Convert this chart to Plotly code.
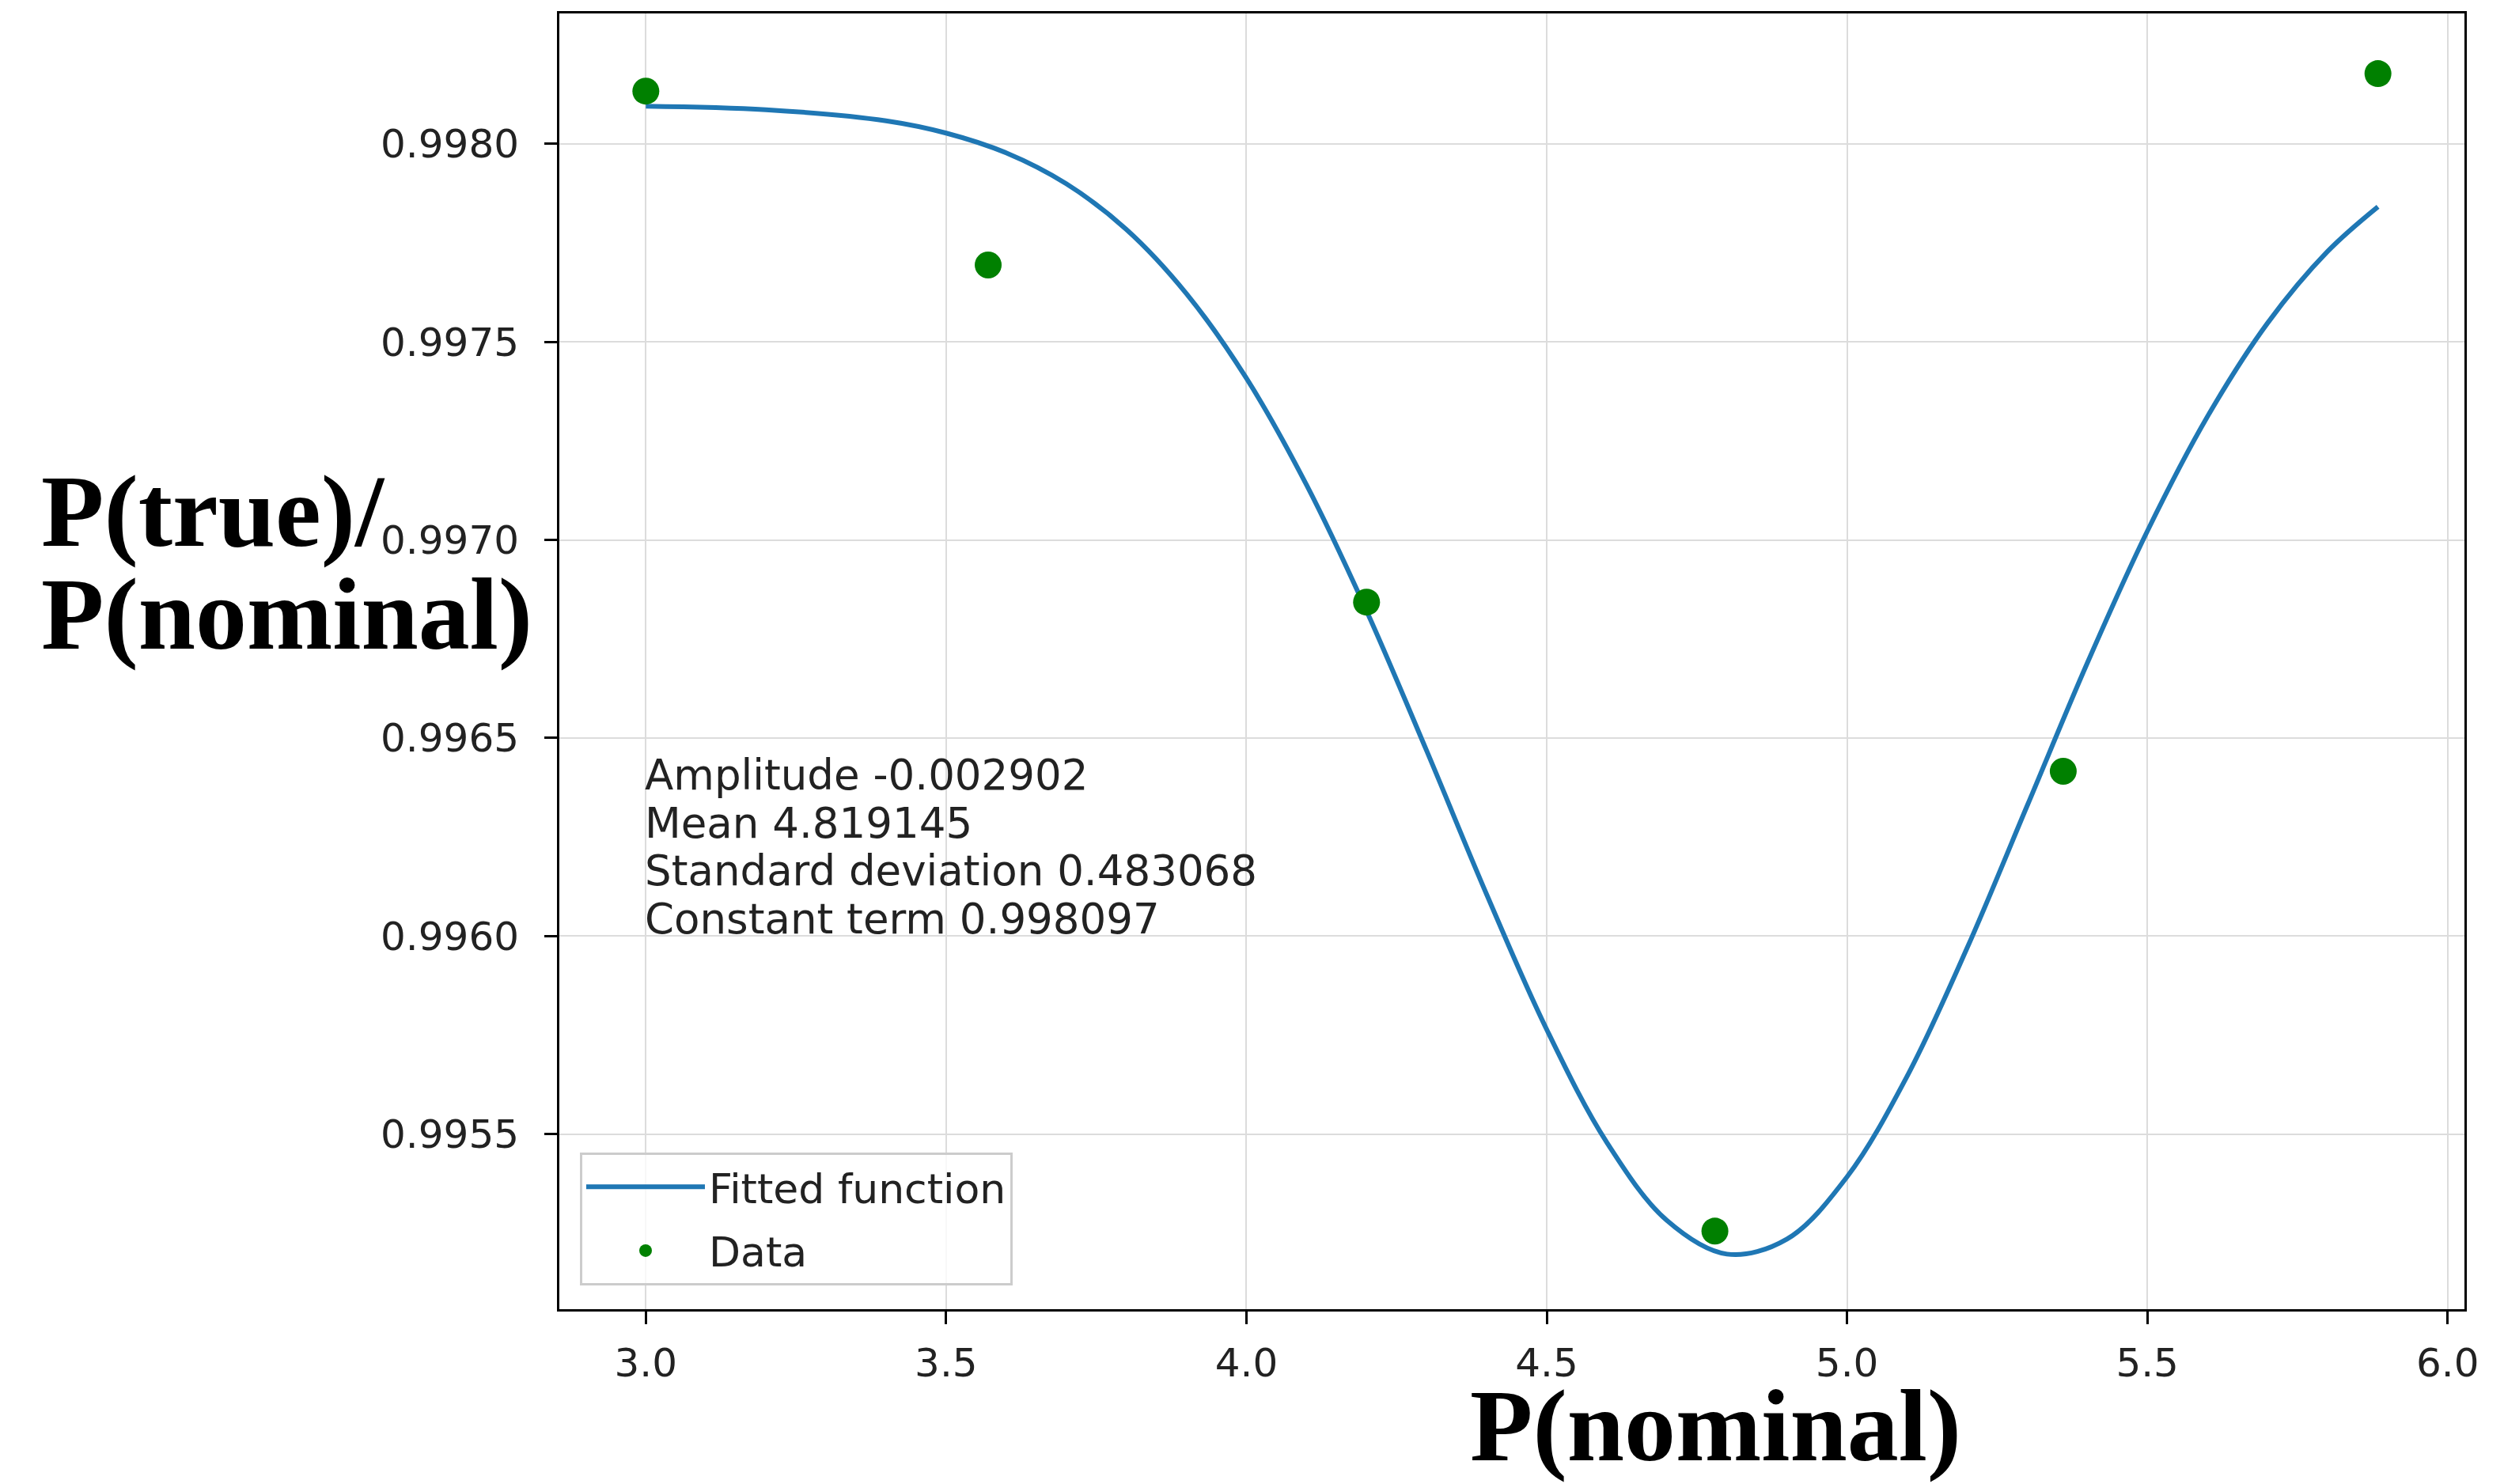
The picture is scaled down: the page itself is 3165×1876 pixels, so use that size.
import plotly.graph_objects as go

# Data points
data_x = [3.0, 3.57, 4.20, 4.78, 5.36, 5.884]
data_y = [0.998133, 0.997694, 0.996843, 0.995255, 0.996416, 0.998177]

# Fitted curve samples
fit_x = [3.0, 3.2, 3.4, 3.5, 3.6, 3.7, 3.8, 3.9, 4.0, 4.1, 4.2, 4.3, 4.4, 4.5,
         4.6, 4.7, 4.8, 4.9, 5.0, 5.1, 5.2, 5.3, 5.4, 5.5, 5.6, 5.7, 5.8, 5.884]
fit_y = [0.998095, 0.998086, 0.998058, 0.998027, 0.997977, 0.997899, 0.997784,
         0.997622, 0.997408, 0.997139, 0.996821, 0.996468, 0.996105, 0.995764,
         0.995479, 0.995282, 0.995197, 0.995235, 0.995392, 0.995646, 0.995970,
         0.996329, 0.996689, 0.997022, 0.997311, 0.997547, 0.997728, 0.997841]

x_ticks = [3.0, 3.5, 4.0, 4.5, 5.0, 5.5, 6.0]
y_ticks = [0.9955, 0.9960, 0.9965, 0.9970, 0.9975, 0.9980]

fit_text = ["Amplitude -0.002902", "Mean 4.819145",
            "Standard deviation 0.483068", "Constant term 0.998097"]

W, H = 3165, 1876
L, R, T, B = 707, 50, 17, 221
PW, PH = W - L - R, H - T - B


def px_x(p):
    return (p - L) / PW


def px_y(p):
    return (H - B - p) / PH


fig = go.Figure()
fig.add_trace(go.Scatter(x=fit_x, y=fit_y, mode="lines", name="Fitted function",
                         legendgroup="fit",
                         line=dict(color="#1f77b4", width=6, shape="spline")))
fig.add_trace(go.Scatter(x=data_x, y=data_y, mode="markers", name="Data",
                         legendgroup="data",
                         marker=dict(color="green", size=34)))

axis_common = dict(showline=True, linecolor="black", linewidth=3, mirror=True,
                   ticks="outside", ticklen=16, tickwidth=3, tickcolor="black",
                   showgrid=True, gridcolor="#dcdcdc", gridwidth=2,
                   zeroline=False, tickfont=dict(family="DejaVu Sans", size=50, color="#222"))

fig.update_xaxes(range=[2.856, 6.028], tickvals=x_ticks,
                 ticktext=[f"{v:.1f}" for v in x_ticks], ticklabelstandoff=6, **axis_common)
fig.update_yaxes(range=[0.995058, 0.998329], tickvals=y_ticks,
                 ticktext=[f"{v:.4f}" for v in y_ticks], ticklabelstandoff=22, **axis_common)

# fit parameter text, one line per annotation (line pitch ~60px)
line_centers = [979, 1040, 1100, 1161]
for txt, pc in zip(fit_text, line_centers):
    fig.add_annotation(x=fit_x[0], y=px_y(pc), xref="x", yref="paper",
                       text=txt, showarrow=False, xanchor="left", yanchor="middle",
                       align="left", xshift=-3,
                       font=dict(family="DejaVu Sans", size=53, color="#222"))

# x axis title
fig.add_annotation(x=px_x(2168), y=px_y(1802), xref="paper", yref="paper",
                   text="<b>P(nominal)</b>", showarrow=False,
                   xanchor="center", yanchor="middle",
                   font=dict(family="Liberation Serif", size=130, color="black"))

# y axis title (two lines)
for txt, pc in [("<b>P(true)/</b>", 646), ("<b>P(nominal)</b>", 776)]:
    fig.add_annotation(x=px_x(50), y=px_y(pc), xref="paper", yref="paper",
                       text=txt, showarrow=False, xanchor="left", yanchor="middle",
                       align="left",
                       font=dict(family="Liberation Serif", size=130, color="black"))

fig.update_layout(
    width=W, height=H, margin=dict(l=L, r=R, t=T, b=B),
    paper_bgcolor="white", plot_bgcolor="white",
    showlegend=True,
    legend=dict(x=px_x(733), y=px_y(1457),
                xanchor="left", yanchor="top",
                bgcolor="rgba(255,255,255,0.8)", bordercolor="#cccccc", borderwidth=3,
                font=dict(family="DejaVu Sans", size=52, color="#222"),
                itemwidth=150, itemsizing="trace", tracegroupgap=10),
)

fig.write_html("out.html")
